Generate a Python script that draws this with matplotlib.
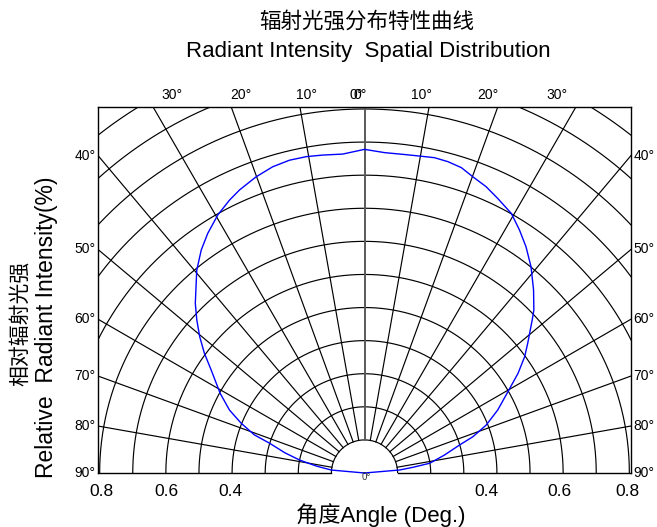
import numpy as np
import matplotlib.pyplot as plt

plt.rcParams['font.family'] = ['Liberation Sans', 'Noto Sans CJK SC', 'DejaVu Sans']

# 角度 (deg, 0 = 正上方) 与相对光强
angles = [-90, -84.9, -81.8, -78.7, -75.7, -72.6, -70.9, -68, -65, -61.1, -56.1,
          -53.2, -50.4, -47.6, -44.9, -39.6, -36.2, -33.2, -29.6, -26.3, -23.8,
          -20.1, -16.7, -13.5, -10.4, -7.5, -3.9, 0,
          3.6, 7.2, 9.8, 12.5, 15, 17.6, 20.1, 23, 25.9, 29.5, 32.5, 35.5, 38.9,
          42.7, 46.1, 47.6, 51.5, 54, 57, 60.1, 64.7, 68.5, 71.5, 73.6, 77.3,
          81.5, 83.3, 85.1, 90]
intensity = [0.0, 0.101, 0.147, 0.200, 0.249, 0.300, 0.352, 0.402, 0.450, 0.498, 0.558,
             0.604, 0.646, 0.686, 0.724, 0.795, 0.835, 0.865, 0.897, 0.920, 0.935,
             0.953, 0.966, 0.972, 0.972, 0.969, 0.966, 0.978,
             0.970, 0.970, 0.972, 0.976, 0.974, 0.968, 0.953, 0.940, 0.922, 0.901, 0.871, 0.840, 0.801,
             0.753, 0.710, 0.686, 0.630, 0.598, 0.553, 0.503, 0.445, 0.395, 0.345, 0.299, 0.248,
             0.199, 0.147, 0.106, 0.0]

grid_angles = list(range(-90, 91, 10))
grid_radii = [0.1 * k for k in range(1, 15)]

top_labels = ['30°', '20°', '10°', '0°', '0°', '10°', '20°', '30°']
top_px = [173, 241, 307, 357, 361, 422, 488, 557]
side_labels = ['40°', '50°', '60°', '70°', '80°', '90°']
side_angles = [40, 50, 60, 70, 80, 90]
bottom_labels = ['0.8', '0.6', '0.4', '0.4', '0.6', '0.8']
bottom_px = [102, 167, 231, 487, 560, 628]

W, H = 657, 527
CX, CY, S = 365, 473, 331.0   # 圆心像素位置, 每单位像素

fig = plt.figure(figsize=(W / 100, H / 100), dpi=100)
ax = fig.add_axes([98 / W, (H - 473) / H, 533 / W, 366 / H])
xmax = 0.805
ax.set_xlim(-xmax, xmax)
ax.set_ylim(0, 1.106)
ax.set_xticks([])
ax.set_yticks([])
ax.spines['bottom'].set_visible(False)
for s in ['left', 'right', 'top']:
    ax.spines[s].set_linewidth(1.0)

# 同心圆
t = np.linspace(0, np.pi, 721)
for r in grid_radii:
    ax.plot(r * np.cos(t), r * np.sin(t), color='black', lw=0.85, zorder=1)

# 径向线
for a in grid_angles:
    th = np.radians(a)
    if a == 0:
        ax.plot([0, 0], [0.1, 2], color='#5a5a5a', lw=1.4, zorder=2)
    elif abs(a) == 90:
        ax.plot([0.1 * np.sign(a), xmax * np.sign(a)], [0, 0], color='black',
                lw=1.0, clip_on=False, zorder=1)
    else:
        ax.plot([0.1 * np.sin(th), 2 * np.sin(th)], [0.1 * np.cos(th), 2 * np.cos(th)],
                color='black', lw=0.85, zorder=1)

# 光强曲线
th = np.radians(angles)
r = np.array(intensity)
ax.plot(r * np.sin(th), r * np.cos(th), color='#0000ff', lw=1.0, clip_on=False, zorder=3)

# 顶部角度标签
for lab, px in zip(top_labels, top_px):
    ax.text((px - CX) / S, (CY - 95) / S, lab, ha='center', va='center',
            fontsize=10, clip_on=False)

# 两侧角度标签
for lab, a in zip(side_labels, side_angles):
    yv = xmax / np.tan(np.radians(a))
    ax.text(-xmax - 0.008, yv, lab, ha='right', va='center', fontsize=10)
    ax.text(xmax + 0.008, yv, lab, ha='left', va='center', fontsize=10)

# 底部光强标签
for lab, px in zip(bottom_labels, bottom_px):
    ax.text((px - CX) / S, (CY - 492) / S, lab, ha='center', va='center',
            fontsize=12.5, clip_on=False)

ax.text(0.006, -0.012, '0°', ha='center', va='center', fontsize=7, color='#333333',
        clip_on=False)

# 标题与坐标轴名称
fig.text(367 / W, 1 - 22 / H, '辐射光强分布特性曲线', ha='center', va='center', fontsize=15.5)
fig.text(368 / W, 1 - 57 / H, 'Radiant Intensity  Spatial Distribution', ha='center',
         va='baseline', fontsize=16)
fig.text(20 / W, 1 - 323 / H, '相对辐射光强', rotation=90, ha='center', va='center',
         fontsize=15)
fig.text(47 / W, 1 - 327 / H, 'Relative  Radiant Intensity(%)', rotation=90, ha='center',
         va='center', fontsize=16.5)
fig.text(381 / W, 1 - 515 / H, '角度Angle (Deg.)', ha='center', va='center', fontsize=16)

fig.savefig('out.png', dpi=100)
